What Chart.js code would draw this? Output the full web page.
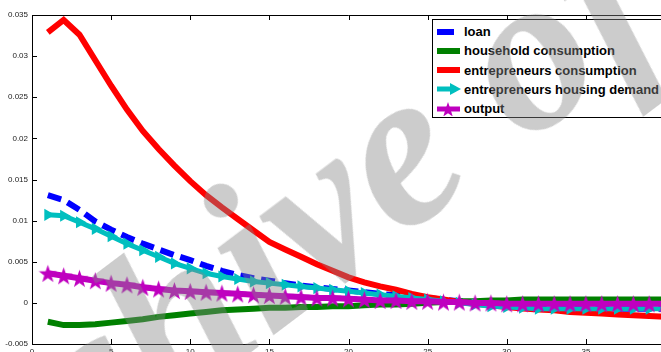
<!DOCTYPE html>
<html>
<head>
<meta charset="utf-8">
<script src="https://cdn.jsdelivr.net/npm/chart.js@4.4.1/dist/chart.umd.min.js"></script>
<style>
  html, body { margin: 0; padding: 0; background: #fff; overflow: hidden; }
  #wrap { position: relative; width: 661px; height: 352px; overflow: hidden; }
  #chart { position: absolute; left: 0; top: 0; }
  #legend {
    position: absolute; left: 432px; top: 19px; width: 250px; height: 97px;
    border: 1px solid #000; background: #fff;
    font: bold 13px "Liberation Sans", Arial, sans-serif; color: #000;
  }
  .item { position: absolute; left: 3px; height: 19px; display: flex; align-items: center; white-space: nowrap; }
  .item svg { margin-right: 2px; }
  #mark {
    position: absolute; left: -178px; top: 272px;
    transform-origin: 275px 130px; transform: rotate(-37deg) scale(1.05);
    font: italic bold 215px "Liberation Serif", "DejaVu Serif", serif; line-height: 1;
    color: rgba(133, 133, 133, 0.42); white-space: nowrap; pointer-events: none;
  }
</style>
</head>
<body>
<div id="wrap">
  <canvas id="chart"></canvas>
  <div id="legend"></div>
  <div id="mark">Archive of SID</div>
</div>
<script>
const periods = [1, 2, 3, 4, 5, 6, 7, 8, 9, 10, 11, 12, 13, 14, 15, 16, 17, 18, 19, 20,
  21, 22, 23, 24, 25, 26, 27, 28, 29, 30, 31, 32, 33, 34, 35, 36, 37, 38, 39, 40];

const seriesNames = [
  "loan",
  "household consumption",
  "entrepreneurs consumption",
  "entrepreneurs housing demand",
  "output",
];

const loan = [0.0131, 0.0125, 0.0113, 0.0099, 0.0089, 0.0080, 0.0072, 0.0065, 0.0058, 0.0052,
  0.0045, 0.0039, 0.0034, 0.0030, 0.0027, 0.0024, 0.0021, 0.0019, 0.0017, 0.0015,
  0.0013, 0.0011, 0.0009, 0.0008, 0.0006, 0.0004, 0.0002, 0.0000, -0.0002, -0.0003,
  -0.0004, -0.0005, -0.0006, -0.0006, -0.0007, -0.0007, -0.0007, -0.0007, -0.0007, -0.0007];

const householdCons = [-0.0023, -0.0027, -0.0027, -0.0026, -0.0024, -0.0022, -0.0020, -0.0017, -0.0015, -0.0013,
  -0.0011, -0.0009, -0.0008, -0.0007, -0.0006, -0.0006, -0.0005, -0.0005, -0.0004, -0.0004,
  -0.0003, -0.0002, -0.0002, -0.0001, 0.0000, 0.0001, 0.0002, 0.0002, 0.0003, 0.0003,
  0.0004, 0.0004, 0.0004, 0.0004, 0.0004, 0.0004, 0.0004, 0.0004, 0.0004, 0.0004];

const entrepCons = [0.0329, 0.0344, 0.0326, 0.0295, 0.0264, 0.0235, 0.0209, 0.0187, 0.0167, 0.0148,
  0.0131, 0.0116, 0.0102, 0.0088, 0.0074, 0.0065, 0.0056, 0.0047, 0.0039, 0.0031,
  0.0025, 0.0020, 0.0016, 0.0011, 0.0007, 0.0004, 0.0001, -0.0001, -0.0003, -0.0005,
  -0.0007, -0.0008, -0.0009, -0.0011, -0.0012, -0.0013, -0.0014, -0.0015, -0.0016, -0.0017];

const housingDemand = [0.0107, 0.0106, 0.0098, 0.0090, 0.0081, 0.0072, 0.0064, 0.0056, 0.0048, 0.0042,
  0.0036, 0.0032, 0.0029, 0.0026, 0.0024, 0.0022, 0.0020, 0.0018, 0.0016, 0.0014,
  0.0012, 0.0010, 0.0008, 0.0006, 0.0004, 0.0002, 0.0000, -0.0002, -0.0004, -0.0005,
  -0.0006, -0.0007, -0.0007, -0.0007, -0.0007, -0.0007, -0.0007, -0.0007, -0.0007, -0.0007];

const output = [0.0036, 0.0033, 0.0030, 0.0027, 0.0024, 0.0022, 0.0019, 0.0017, 0.0015, 0.0014,
  0.0013, 0.0012, 0.0011, 0.0010, 0.0009, 0.0008, 0.0007, 0.0006, 0.0006, 0.0005,
  0.0004, 0.0003, 0.0003, 0.0002, 0.0002, 0.0001, 0.0001, 0.0000, 0.0000, -0.0001,
  -0.0001, -0.0001, -0.0001, -0.0001, -0.0001, -0.0001, -0.0001, -0.0001, -0.0001, -0.0001];

const xTicks = [0, 5, 10, 15, 20, 25, 30, 35, 40];
const yTicks = [-0.005, 0, 0.005, 0.01, 0.015, 0.02, 0.025, 0.03, 0.035];

const BLUE = "#0000ff";
const GREEN = "#008000";
const RED = "#ff0000";
const CYAN = "#00bfbf";
const MAGENTA = "#bf00bf";

function starPoints(cx, cy, outer, inner) {
  const pts = [];
  for (let i = 0; i < 10; i++) {
    const r = i % 2 === 0 ? outer : inner;
    const a = -Math.PI / 2 + (i * Math.PI) / 5;
    pts.push([cx + r * Math.cos(a), cy + r * Math.sin(a)]);
  }
  return pts;
}

function makeStar(size, color) {
  const c = document.createElement("canvas");
  c.width = size;
  c.height = size;
  const ctx = c.getContext("2d");
  const pts = starPoints(size / 2, size / 2 + 1, size / 2, size / 5);
  ctx.fillStyle = color;
  ctx.beginPath();
  pts.forEach(([x, y], i) => (i ? ctx.lineTo(x, y) : ctx.moveTo(x, y)));
  ctx.closePath();
  ctx.fill();
  return c;
}

function toPoints(values) {
  return values.map((v, i) => ({ x: periods[i], y: v }));
}

// matlab style box with inward ticks
const boxPlugin = {
  id: "box",
  beforeDatasetsDraw(chart) {
    const { ctx, chartArea: a, scales } = chart;
    ctx.save();
    ctx.strokeStyle = "#000";
    ctx.lineWidth = 1;
    ctx.beginPath();
    ctx.moveTo(a.left + 0.5, a.top + 0.5);
    ctx.lineTo(a.right, a.top + 0.5);
    ctx.moveTo(a.left + 0.5, a.top);
    ctx.lineTo(a.left + 0.5, a.bottom + 0.5);
    ctx.lineTo(a.right, a.bottom + 0.5);
    xTicks.forEach((t) => {
      const px = Math.round(scales.x.getPixelForValue(t)) + 0.5;
      ctx.moveTo(px, a.bottom);
      ctx.lineTo(px, a.bottom - 5);
      ctx.moveTo(px, a.top);
      ctx.lineTo(px, a.top + 5);
    });
    yTicks.forEach((t) => {
      const py = Math.round(scales.y.getPixelForValue(t)) + 0.5;
      ctx.moveTo(a.left, py);
      ctx.lineTo(a.left + 5, py);
    });
    ctx.stroke();
    ctx.restore();
  },
};

const canvas = document.getElementById("chart");
canvas.width = 680;
canvas.height = 362;
canvas.style.width = "680px";
canvas.style.height = "362px";

const tickFont = { family: "'Liberation Sans', Arial, sans-serif", size: 8 };

new Chart(canvas, {
  type: "line",
  data: {
    datasets: [
      {
        label: seriesNames[0],
        data: toPoints(loan),
        borderColor: BLUE,
        borderWidth: 6,
        borderDash: [14, 7],
        pointRadius: 0,
        order: 4,
      },
      {
        label: seriesNames[1],
        data: toPoints(householdCons),
        borderColor: GREEN,
        borderWidth: 6,
        pointRadius: 0,
        order: 3,
      },
      {
        label: seriesNames[2],
        data: toPoints(entrepCons),
        borderColor: RED,
        borderWidth: 6,
        pointRadius: 0,
        order: 2,
      },
      {
        label: seriesNames[3],
        data: toPoints(housingDemand),
        borderColor: CYAN,
        backgroundColor: CYAN,
        borderWidth: 5,
        pointStyle: "triangle",
        rotation: 90,
        pointRadius: 7,
        pointBorderWidth: 0,
        order: 1,
      },
      {
        label: seriesNames[4],
        data: toPoints(output),
        borderColor: MAGENTA,
        backgroundColor: MAGENTA,
        borderWidth: 6,
        pointStyle: makeStar(19, MAGENTA),
        pointRadius: 9,
        order: 0,
      },
    ],
  },
  options: {
    responsive: false,
    animation: false,
    events: [],
    layout: { padding: { left: 0, top: 15, right: 14, bottom: 0 } },
    plugins: { legend: { display: false }, tooltip: { enabled: false } },
    scales: {
      x: {
        type: "linear",
        min: 0,
        max: 40,
        afterFit: (s) => { s.height = 18; },
        afterBuildTicks: (s) => { s.ticks = xTicks.map((v) => ({ value: v })); },
        grid: { display: false, drawTicks: false },
        border: { display: false },
        ticks: { font: tickFont, color: "#222", padding: 3, maxRotation: 0 },
      },
      y: {
        min: -0.005,
        max: 0.035,
        afterFit: (s) => { s.width = 32; },
        afterBuildTicks: (s) => { s.ticks = yTicks.map((v) => ({ value: v })); },
        grid: { display: false, drawTicks: false },
        border: { display: false },
        ticks: {
          font: tickFont,
          color: "#222",
          padding: 4,
          callback: (v) => String(+v.toFixed(3)),
        },
      },
    },
  },
  plugins: [boxPlugin],
});

// legend box drawn like matlab (inside the axes, top right)
const swatches = [
  `<line x1="1" y1="7" x2="18" y2="7" stroke="${BLUE}" stroke-width="6"/>`,
  `<line x1="1" y1="7" x2="24" y2="7" stroke="${GREEN}" stroke-width="6"/>`,
  `<line x1="1" y1="7" x2="24" y2="7" stroke="${RED}" stroke-width="6"/>`,
  `<line x1="1" y1="7" x2="20" y2="7" stroke="${CYAN}" stroke-width="5"/><polygon points="14,1 25,7 14,13" fill="${CYAN}"/>`,
  `<line x1="1" y1="7" x2="24" y2="7" stroke="${MAGENTA}" stroke-width="5"/><polygon points="${starPoints(12, 8, 8, 3.2).map((p) => p.join(",")).join(" ")}" fill="${MAGENTA}"/>`,
];

const legend = document.getElementById("legend");
seriesNames.forEach((name, i) => {
  const item = document.createElement("div");
  item.className = "item";
  item.style.top = `${2 + i * 19.3}px`;
  item.innerHTML = `<svg width="26" height="14">${swatches[i]}</svg><span>${name}</span>`;
  legend.appendChild(item);
});
</script>
</body>
</html>
